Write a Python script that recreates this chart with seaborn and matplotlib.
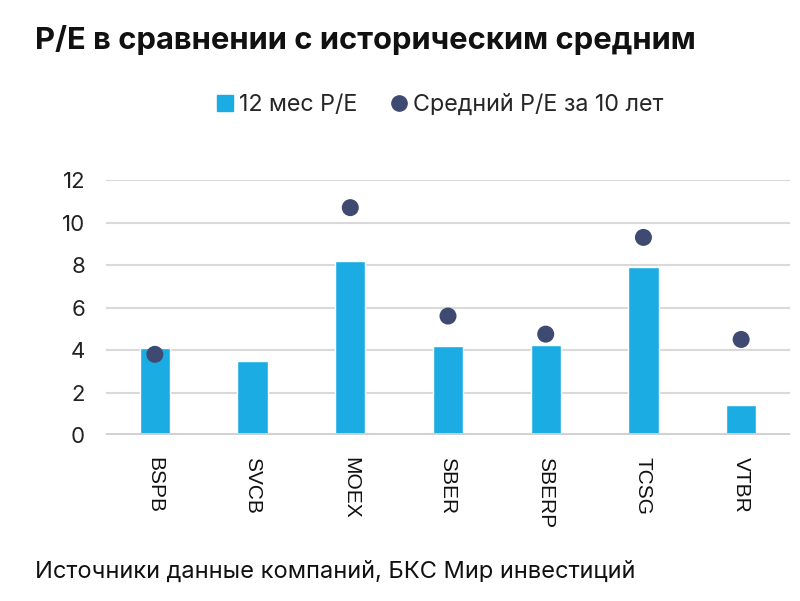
import matplotlib
matplotlib.use("Agg")
import matplotlib.pyplot as plt
import numpy as np
import pandas as pd
import seaborn as sns
from matplotlib.lines import Line2D

tickers = ["BSPB", "SVCB", "MOEX", "SBER", "SBERP", "TCSG", "VTBR"]
pe_12m = [4.1, 3.5, 8.2, 4.2, 4.25, 7.9, 1.4]
pe_avg_10y = [3.8, np.nan, 10.7, 5.6, 4.75, 9.3, 4.5]
y_ticks = [0, 2, 4, 6, 8, 10, 12]

bar_color = "#1BACE3"
dot_color = "#3F4A72"

sns.set_theme(style="white")
plt.rcParams["font.family"] = ["Inter", "DejaVu Sans"]

df = pd.DataFrame({"ticker": tickers, "pe": pe_12m, "avg": pe_avg_10y})

fig = plt.figure(figsize=(8, 6.01), dpi=100)
ax = fig.add_axes([0.1325, 0.276, 0.855, 0.4245])

sns.barplot(data=df, x="ticker", y="pe", color=bar_color, width=0.31,
            saturation=1, ax=ax, zorder=2)
sns.scatterplot(data=df.dropna(), x="ticker", y="avg", color=dot_color,
                s=150, edgecolor="none", ax=ax, zorder=3)

ax.set_xlim(-0.5, 6.5)
ax.set_ylim(0, 12)
ax.set_yticks(y_ticks)
ax.set_xlabel("")
ax.set_ylabel("")
for y in y_ticks[1:]:
    ax.axhline(y, color="#D9D9D9", lw=1.5, zorder=1)
ax.axhline(0, color="#D0D0D0", lw=3.5, zorder=4)
for s in ax.spines.values():
    s.set_visible(False)
ax.tick_params(axis="y", length=0, pad=15, labelsize=16, labelcolor="#222222")
ax.tick_params(axis="x", length=0, pad=16, labelsize=15, labelcolor="#111111")
plt.setp(ax.get_xticklabels(), rotation=-90, va="top", ha="center",
         family=["Liberation Sans", "DejaVu Sans"])

handles = [
    Line2D([], [], marker="s", color=bar_color, ls="none", markersize=11,
           label="12 мес P/E"),
    Line2D([], [], marker="o", color=dot_color, ls="none", markersize=11,
           label="Средний P/E за 10 лет"),
]
fig.legend(handles=handles, loc="center", bbox_to_anchor=(0.548, 0.825), ncol=2,
           frameon=False, fontsize=16.8, handletextpad=0.1, columnspacing=1.3,
           handlelength=1.0)

fig.text(0.044, 0.933, "P/E в сравнении с историческим средним", fontsize=22.3,
         fontweight="bold", color="#111111", va="center", ha="left")
fig.text(0.044, 0.048, "Источники данные компаний, БКС Мир инвестиций",
         fontsize=17, color="#111111", va="center", ha="left")

fig.savefig("out.png", dpi=100)
